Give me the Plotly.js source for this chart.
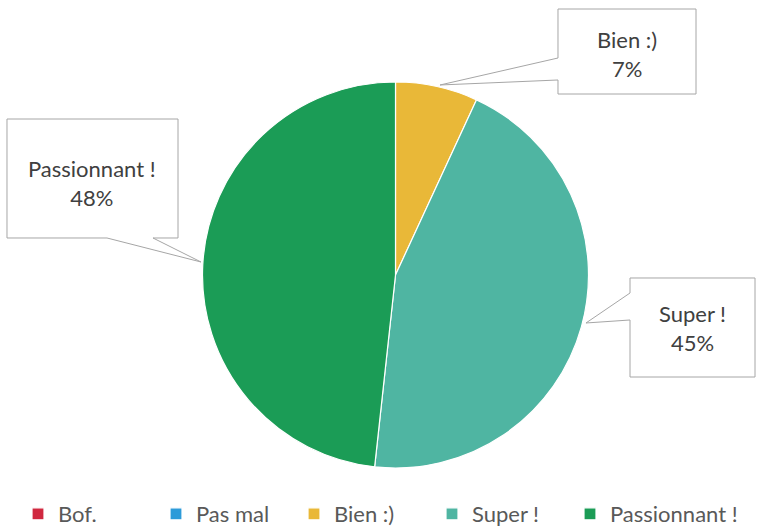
<!DOCTYPE html>
<html>
<head>
<meta charset="utf-8">
<script src="https://cdn.plot.ly/plotly-3.0.1.min.js"></script>
<style>html,body{margin:0;padding:0;background:#fff;}#chart{width:763px;height:527px;}</style>
</head>
<body>
<div id="chart"></div>
<script>
var labels = ['Bof.', 'Pas mal', 'Bien :)', 'Super !', 'Passionnant !'];
var counts = [0, 0, 2, 13, 14];
var colors = ['#D0283F', '#2D9BD9', '#E9B838', '#4FB5A2', '#1B9C56'];
var calloutIdx = [2, 3, 4];

var W = 763, H = 527;
function px(x) { return x / W; }
function py(y) { return 1 - y / H; }
function path(pts) {
  return 'M' + pts.map(function (p) { return px(p[0]).toFixed(5) + ',' + py(p[1]).toFixed(5); }).join('L') + 'Z';
}

var total = counts.reduce(function (a, b) { return a + b; }, 0);
function pctText(i) { return labels[i] + '<br>' + Math.round(counts[i] / total * 100) + '%'; }

// callout geometry (layout only)
var callouts = {
  2: { pts: [[558,9],[696,9],[696,94],[558,94],[558,80],[440,85],[558,58]], tx: 627, ty: 54 },
  3: { pts: [[630,278],[755,278],[755,377],[630,377],[630,320],[586,323],[630,293]], tx: 692, ty: 328 },
  4: { pts: [[7,119],[178,119],[178,238],[153,238],[201,262],[107,238],[7,238]], tx: 92, ty: 183 }
};

var shapes = [], annotations = [];
calloutIdx.forEach(function (i) {
  var c = callouts[i];
  shapes.push({ type: 'path', xref: 'paper', yref: 'paper', path: path(c.pts),
    fillcolor: '#ffffff', line: { color: '#A6A6A6', width: 1 } });
  annotations.push({ xref: 'paper', yref: 'paper', x: px(c.tx), y: py(c.ty),
    xanchor: 'center', yanchor: 'middle', showarrow: false, text: pctText(i),
    font: { family: 'Lato, sans-serif', size: 22, color: '#404040' } });
});

var domain = { x: [px(202.5), px(588.5)], y: [py(468), py(82)] };

var trace = {
  type: 'pie',
  labels: labels,
  values: counts,
  sort: false,
  direction: 'clockwise',
  rotation: 0,
  textinfo: 'none',
  hoverinfo: 'label+percent',
  marker: { colors: colors, line: { color: '#ffffff', width: 1.2 } },
  domain: domain
};

// invisible, narrow spacer entry so the last legend label is not clipped
var spacer = {
  type: 'pie', labels: ['\u00a0'], values: [1], textinfo: 'none', hoverinfo: 'skip',
  legendwidth: 1,
  marker: { colors: ['rgba(0,0,0,0)'], line: { width: 0 } }, domain: domain
};

var layout = {
  width: W, height: H,
  margin: { l: 0, r: 0, t: 0, b: 0, autoexpand: false },
  paper_bgcolor: '#ffffff',
  showlegend: true,
  legend: {
    orientation: 'h', x: px(18), xanchor: 'left', y: py(514), yanchor: 'middle',
    entrywidth: 93, entrywidthmode: 'pixels', traceorder: 'normal',
    font: { family: 'Lato, sans-serif', size: 22, color: '#595959' }
  },
  shapes: shapes,
  annotations: annotations
};

Plotly.newPlot('chart', [trace, spacer], layout, { displayModeBar: false, staticPlot: true });
</script>
</body>
</html>
